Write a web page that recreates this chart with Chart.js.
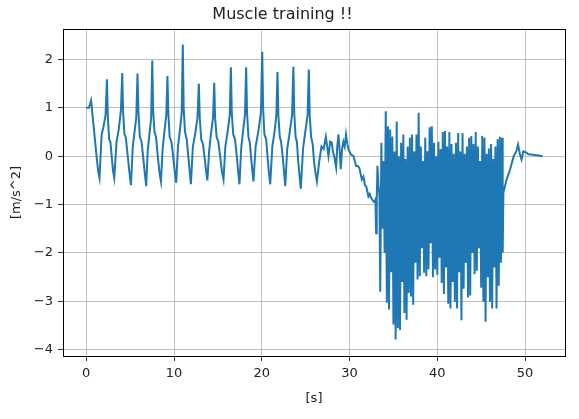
<!DOCTYPE html>
<html lang="en">
<head>
    <meta charset="UTF-8">
    <title>Muscle training !!</title>
    <script src="https://cdn.jsdelivr.net/npm/chart.js"></script>
    <style>
        body { margin: 0; background: #fff; }
        canvas { display: block; }
    </style>
</head>
<body>
    <canvas id="accChart" width="579" height="419"></canvas>

    <script>
        // repetitions + slow drift (0 - 33.4 s)
        const repsT = [0.0, 0.3, 0.55, 0.85, 1.15, 1.35, 1.51,
            1.75, 1.95, 2.2, 2.36, 2.45, 2.6, 2.75, 2.9, 3.05, 3.19,
            3.45, 3.7, 3.95, 4.10, 4.2, 4.35, 4.5, 4.7, 4.9, 5.09,
            5.3, 5.5, 5.7, 5.84, 5.95, 6.1, 6.3, 6.5, 6.7, 6.83,
            7.0, 7.2, 7.4, 7.52, 7.62, 7.78, 7.95, 8.15, 8.35, 8.51,
            8.7, 8.9, 9.12, 9.25, 9.35, 9.5, 9.7, 9.9, 10.1, 10.25,
            10.45, 10.65, 10.88, 11.0, 11.1, 11.25, 11.45, 11.6, 11.78, 11.92,
            12.15, 12.4, 12.68, 12.83, 12.93, 13.1, 13.3, 13.5, 13.65, 13.8,
            14.0, 14.2, 14.45, 14.58, 14.68, 14.85, 15.05, 15.25, 15.45, 15.64,
            15.85, 16.1, 16.35, 16.48, 16.58, 16.75, 16.95, 17.15, 17.3, 17.46,
            17.65, 17.85, 18.08, 18.22, 18.32, 18.48, 18.62, 18.8, 18.95, 19.05,
            19.3, 19.6, 19.9, 20.05, 20.15, 20.3, 20.5, 20.65, 20.82, 20.96,
            21.2, 21.45, 21.66, 21.79, 21.89, 22.05, 22.2, 22.38, 22.55, 22.67,
            22.9, 23.15, 23.45, 23.6, 23.7, 23.85, 24.0, 24.15, 24.3, 24.45,
            24.7, 24.95, 25.22, 25.36, 25.46, 25.62, 25.8, 25.95, 26.12, 26.28,
            26.55, 26.8, 27.05, 27.3, 27.6, 27.8, 27.98, 28.1, 28.25, 28.47,
            28.6, 28.74, 28.88, 29.0, 29.15, 29.3, 29.45, 29.6, 29.75, 29.88,
            30.15, 30.45, 30.6, 30.75, 30.95, 31.13, 31.3, 31.4, 31.58, 31.75,
            31.9, 32.05, 32.15, 32.3, 32.42, 32.6, 32.72, 32.85, 32.95, 33.03,
            33.1, 33.18, 33.3, 33.4];
        const repsA = [1.0, 1.0, 1.15, 0.6, 0.05, -0.3, -0.45,
            0.45, 0.6, 0.85, 1.59, 0.85, 0.35, 0.3, 0.0, -0.3, -0.45,
            0.3, 0.55, 0.95, 1.72, 0.9, 0.45, 0.4, 0.05, -0.3, -0.6,
            0.2, 0.5, 0.8, 1.71, 0.9, 0.4, 0.3, -0.05, -0.4, -0.62,
            0.1, 0.45, 0.8, 1.98, 0.95, 0.5, 0.4, 0.0, -0.35, -0.52,
            0.15, 0.5, 0.85, 1.66, 0.9, 0.4, 0.3, 0.0, -0.35, -0.55,
            0.2, 0.5, 0.9, 2.31, 1.0, 0.5, 0.35, 0.05, -0.3, -0.58,
            0.2, 0.45, 0.8, 1.50, 0.8, 0.35, 0.25, -0.05, -0.3, -0.5,
            0.1, 0.45, 0.8, 1.52, 0.8, 0.4, 0.3, 0.0, -0.3, -0.48,
            0.2, 0.5, 0.85, 1.84, 0.9, 0.45, 0.35, 0.0, -0.3, -0.58,
            0.15, 0.5, 0.85, 1.84, 0.9, 0.4, 0.3, -0.05, -0.35, -0.52,
            0.2, 0.5, 0.9, 2.16, 1.0, 0.45, 0.35, 0.0, -0.35, -0.58,
            0.2, 0.5, 0.85, 1.74, 0.85, 0.4, 0.3, 0.0, -0.35, -0.62,
            0.15, 0.45, 0.85, 1.85, 0.9, 0.4, 0.3, -0.1, -0.4, -0.67,
            0.15, 0.5, 0.85, 1.79, 0.85, 0.4, 0.25, -0.1, -0.35, -0.52,
            -0.1, 0.2, 0.15, 0.4, 0.0, 0.3, 0.28, 0.1, 0.0, -0.23,
            0.2, 0.45, 0.1, -0.27, 0.15, 0.3, 0.2, 0.45, 0.25, 0.14,
            0.04, 0.0, -0.1, -0.2, -0.2, -0.25, -0.4, -0.48, -0.42, -0.6,
            -0.62, -0.75, -0.83, -0.78, -0.85, -0.9, -0.93, -0.95, -0.9, -1.59,
            -0.9, -0.2, -0.6, -0.8];

        // fast shaking burst (33.5 - 47.45 s)
        const burstT = [33.5, 33.625, 33.75, 33.875, 34.0, 34.125, 34.25, 34.375, 34.5, 34.625,
            34.75, 34.875, 35.0, 35.125, 35.25, 35.375, 35.5, 35.625, 35.75, 35.875,
            36.0, 36.125, 36.25, 36.375, 36.5, 36.625, 36.75, 36.875, 37.0, 37.125,
            37.25, 37.375, 37.5, 37.625, 37.75, 37.875, 38.0, 38.125, 38.25, 38.375,
            38.5, 38.625, 38.75, 38.875, 39.0, 39.125, 39.25, 39.375, 39.5, 39.625,
            39.75, 39.875, 40.0, 40.125, 40.25, 40.375, 40.5, 40.625, 40.75, 40.875,
            41.0, 41.125, 41.25, 41.375, 41.5, 41.625, 41.75, 41.875, 42.0, 42.125,
            42.25, 42.375, 42.5, 42.625, 42.75, 42.875, 43.0, 43.125, 43.25, 43.375,
            43.5, 43.625, 43.75, 43.875, 44.0, 44.125, 44.25, 44.375, 44.5, 44.625,
            44.75, 44.875, 45.0, 45.125, 45.25, 45.375, 45.5, 45.625, 45.75, 45.875,
            46.0, 46.125, 46.25, 46.375, 46.5, 46.625, 46.75, 46.875, 47.0, 47.125,
            47.25, 47.375, 47.45];
        const burstA = [-2.8, 0.28, -1.5, -0.1, -2.0, 0.93, -3.03, 0.62, -3.17, 0.55,
            -2.4, 0.41, -3.48, 0.1, -3.79, 0.72, -3.55, 0.0, -3.59, 0.28,
            -2.6, 0.45, -3.24, -0.05, -3.38, 0.2, -2.83, 0.38, -2.9, 0.45,
            -3.07, 0.1, -2.2, 0.45, -2.55, 0.9, -2.48, 0.2, -1.9, -0.1,
            -2.41, 0.38, -2.48, 0.1, -2.34, 0.6, -1.8, 0.62, -2.5, 0.28,
            -2.34, 0.0, -2.45, 0.3, -2.1, 0.15, -2.62, 0.5, -2.85, 0.52,
            -2.3, 0.2, -3.05, 0.5, -3.15, 0.25, -2.6, 0.05, -3.01, 0.28,
            -3.15, 0.48, -2.4, 0.1, -3.39, 0.48, -2.74, 0.05, -2.2, 0.2,
            -2.92, 0.38, -2.88, 0.42, -2.0, 0.25, -2.44, 0.5, -2.37, 0.2,
            -1.9, -0.1, -2.72, 0.42, -3.01, 0.38, -3.42, 0.05, -2.5, 0.16,
            -3.01, 0.25, -3.15, -0.05, -2.3, 0.2, -3.15, 0.35, -2.68, 0.4,
            -2.2, 0.38, -2.0];

        // settling down (47.53 - 52 s)
        const restT = [47.53, 47.9, 48.3, 48.7, 49.0, 49.2, 49.4, 49.6, 49.8, 50.1, 50.4, 50.9, 51.7, 52.0];
        const restA = [-0.75, -0.48, -0.27, 0.0, 0.1, 0.24, 0.05, -0.07, 0.1, 0.08, 0.04, 0.03, 0.01, 0.0];

        const xTicks = [0, 10, 20, 30, 40, 50];
        const yTicks = [-4, -3, -2, -1, 0, 1, 2];

        const times = repsT.concat(burstT, restT);
        const accel = repsA.concat(burstA, restA);
        const points = times.map((t, i) => ({ x: t, y: accel[i] }));

        const FONT = 'DejaVu Sans';
        const textColor = '#222';

        // matplotlib style box round the plot
        const frame = {
            id: 'frame',
            afterDatasetsDraw(chart) {
                const { ctx, chartArea: a } = chart;
                ctx.save();
                ctx.strokeStyle = '#000';
                ctx.lineWidth = 1;
                ctx.strokeRect(Math.round(a.left) + 0.5, Math.round(a.top) + 0.5,
                    Math.round(a.right - a.left), Math.round(a.bottom - a.top));
                ctx.restore();
            }
        };

        new Chart(document.getElementById('accChart'), {
            type: 'line',
            data: {
                datasets: [{
                    data: points,
                    borderColor: '#1f77b4',
                    borderWidth: 2,
                    pointRadius: 0,
                    tension: 0,
                    fill: false
                }]
            },
            options: {
                responsive: false,
                animation: false,
                events: [],
                layout: { padding: { left: 0, right: 14, top: 0, bottom: 0 } },
                plugins: {
                    legend: { display: false },
                    tooltip: { enabled: false },
                    title: {
                        display: true,
                        text: 'Muscle training !!',
                        color: textColor,
                        font: { family: FONT, size: 16, weight: 'normal' },
                        padding: { top: 5.5, bottom: 4.3 }
                    }
                },
                scales: {
                    x: {
                        type: 'linear',
                        min: -2.65,
                        max: 54.55,
                        afterBuildTicks: (axis) => { axis.ticks = xTicks.map(v => ({ value: v })); },
                        afterFit: (axis) => { axis.height = 63; },
                        border: { display: false },
                        grid: { color: '#b0b0b0', lineWidth: 0.8, tickColor: '#000', tickLength: 5 },
                        ticks: {
                            color: textColor,
                            font: { family: FONT, size: 13 },
                            padding: 5,
                            maxRotation: 0
                        },
                        title: {
                            display: true,
                            text: '[s]',
                            color: textColor,
                            font: { family: FONT, size: 13 },
                            padding: { top: 0, bottom: 13 }
                        }
                    },
                    y: {
                        type: 'linear',
                        min: -4.13,
                        max: 2.63,
                        afterBuildTicks: (axis) => { axis.ticks = yTicks.map(v => ({ value: v })); },
                        afterFit: (axis) => { axis.width = 63; },
                        border: { display: false },
                        grid: { color: '#b0b0b0', lineWidth: 0.8, tickColor: '#000', tickLength: 5 },
                        ticks: {
                            color: textColor,
                            font: { family: FONT, size: 13 },
                            padding: 5,
                            callback: (v) => v < 0 ? '\u2212' + Math.abs(v) : String(v)
                        },
                        title: {
                            display: true,
                            text: '[m/s^2]',
                            color: textColor,
                            font: { family: FONT, size: 13 },
                            padding: { top: 9, bottom: 0 }
                        }
                    }
                }
            },
            plugins: [frame]
        });
    </script>
</body>
</html>
